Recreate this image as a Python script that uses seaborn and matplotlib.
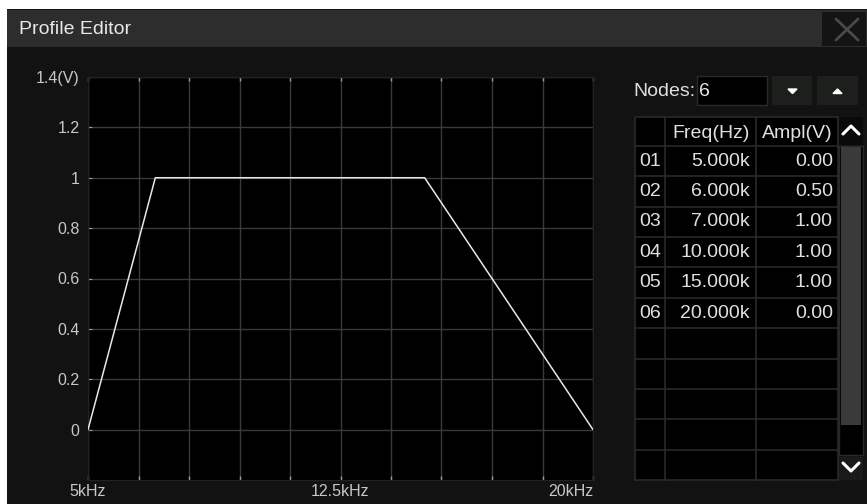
import matplotlib
matplotlib.use("Agg")
import matplotlib.pyplot as plt
import matplotlib.patches as mpatches
import seaborn as sns
import pandas as pd
import numpy as np

# profile nodes (freq in kHz, amplitude in V)
node_ids = ["01", "02", "03", "04", "05", "06"]
freq_khz = [5.0, 6.0, 7.0, 10.0, 15.0, 20.0]
ampl_v = [0.00, 0.50, 1.00, 1.00, 1.00, 0.00]

x_tick_vals = [5.0, 12.5, 20.0]
x_tick_labels = ["5kHz", "12.5kHz", "20kHz"]
y_tick_vals = [0.0, 0.2, 0.4, 0.6, 0.8, 1.0, 1.2, 1.4]
y_tick_labels = ["0", "0.2", "0.4", "0.6", "0.8", "1", "1.2", "1.4(V)"]

sns.set_style("dark")
plt.rcParams['font.family'] = ['Liberation Sans', 'DejaVu Sans']

W, H = 867, 504
fig = plt.figure(figsize=(W / 100, H / 100), dpi=100)
fig.patch.set_facecolor("white")

# background axes in pixel coordinates
bg = fig.add_axes([0, 0, 1, 1])
bg.set_xlim(0, W)
bg.set_ylim(H, 0)
bg.axis("off")


def rect(x0, y0, x1, y1, fc, ec="none", lw=0, z=1):
    bg.add_patch(mpatches.Rectangle((x0, y0), x1 - x0, y1 - y0, facecolor=fc,
                                    edgecolor=ec, linewidth=lw, zorder=z))


# body + title bar
rect(7, 9, W, H, "#121212")
rect(7, 10, W, 47, "#2d2d2d")
rect(822, 12, 866, 46, "#141414", z=2)
bg.plot([836, 858], [19, 40], color="#4a4a4a", lw=2, zorder=3)
bg.plot([836, 858], [40, 19], color="#4a4a4a", lw=2, zorder=3)
bg.text(19, 29, "Profile Editor", color="#e8e8e8", fontsize=14, va="center", ha="left", zorder=3)

# nodes box and buttons
bg.text(633, 91, "Nodes:", color="#e0e0e0", fontsize=14, va="center", ha="left", zorder=3)
rect(697, 76, 767, 105, "#000000", ec="#2a2a2a", lw=1, z=2)
bg.text(699, 91, str(len(node_ids)), color="#e8e8e8", fontsize=14, va="center", ha="left", zorder=3)
rect(772, 76, 812, 105, "#1c1f1c", z=2)
rect(817, 76, 858, 105, "#1c1f1c", z=2)
bg.add_patch(mpatches.Polygon([(788, 89), (797, 89), (792.5, 93.5)], closed=True, color="white", zorder=3))
bg.add_patch(mpatches.Polygon([(833, 93.5), (842, 93.5), (837.5, 89)], closed=True, color="white", zorder=3))

# table
tx0, tx1 = 635, 838
col1, col2 = 665, 756
hdr_top, hdr_bot = 117, 146
row_h = (480 - hdr_bot) / 11
rect(tx0, hdr_top, tx1, 480, "#000000", z=2)
grid_c = "#2a2a2a"
for xv in [tx0, col1, col2, tx1]:
    bg.plot([xv, xv], [hdr_top, 480], color=grid_c, lw=1.2, zorder=3)
for yv in [hdr_top, hdr_bot] + [hdr_bot + row_h * (i + 1) for i in range(11)]:
    bg.plot([tx0, tx1], [yv, yv], color=grid_c, lw=1.2, zorder=3)
bg.text(750, 133, "Freq(Hz)", color="#e0e0e0", fontsize=14, va="center", ha="right", zorder=4)
bg.text(833, 133, "Ampl(V)", color="#e0e0e0", fontsize=14, va="center", ha="right", zorder=4)
for i, (nid, f, a) in enumerate(zip(node_ids, freq_khz, ampl_v)):
    yc = hdr_bot + row_h * (i + 0.5)
    bg.text(639, yc, nid, color="#e0e0e0", fontsize=14, va="center", ha="left", zorder=4)
    bg.text(750, yc, f"{f:.3f}k", color="#e0e0e0", fontsize=14, va="center", ha="right", zorder=4)
    bg.text(833, yc, f"{a:.2f}", color="#e0e0e0", fontsize=14, va="center", ha="right", zorder=4)

# scrollbar
rect(839, 117, 863, 145, "#0a0a0a", z=2)
bg.plot([843, 851, 859], [134, 126, 134], color="white", lw=2.2, zorder=3)
rect(839, 146, 863, 455, "#000000", ec="#2a2a2a", lw=1, z=2)
rect(841, 147, 861, 425, "#3a3a3a", z=3)
rect(839, 457, 863, 480, "#1a1a1a", z=2)
bg.plot([843, 851, 859], [463, 471, 463], color="white", lw=2.2, zorder=3)

# main plot axes
px0, px1, py0, py1 = 88, 593, 77, 480
ax = fig.add_axes([px0 / W, 1 - py1 / H, (px1 - px0) / W, (py1 - py0) / H])
ax.set_facecolor("black")

df = pd.DataFrame({"freq": freq_khz, "ampl": ampl_v})
sns.lineplot(data=df, x="freq", y="ampl", ax=ax, color="#e8e8e8", lw=1.1, zorder=5)

ax.set_xlim(5, 20)
ax.set_ylim(-0.2, 1.4)
grid_x = np.linspace(5, 20, 11)
ax.set_xticks(grid_x)
ax.set_xticklabels([""] * len(grid_x))
ax.set_yticks(y_tick_vals)
ax.set_yticklabels(y_tick_labels)
ax.grid(True, color="#3a3a3a", lw=1)
ax.tick_params(axis="x", direction="in", top=True, bottom=True, length=3, color="#9a9a9a", width=1)
ax.tick_params(axis="y", direction="in", left=True, right=False, length=3, color="#9a9a9a",
               labelcolor="#c8c8c8", labelsize=11.5, pad=6)
ax.set_xlabel("")
ax.set_ylabel("")
for s in ax.spines.values():
    s.set_color("#222222")

for xv, lab in zip(x_tick_vals, x_tick_labels):
    ha = "right" if xv == x_tick_vals[-1] else "center"
    ax.text(xv, -0.245, lab, color="#c8c8c8", fontsize=11.5, ha=ha, va="center",
            transform=ax.transData, clip_on=False)

fig.savefig("out.png", dpi=100, facecolor=fig.get_facecolor())
plt.close(fig)
